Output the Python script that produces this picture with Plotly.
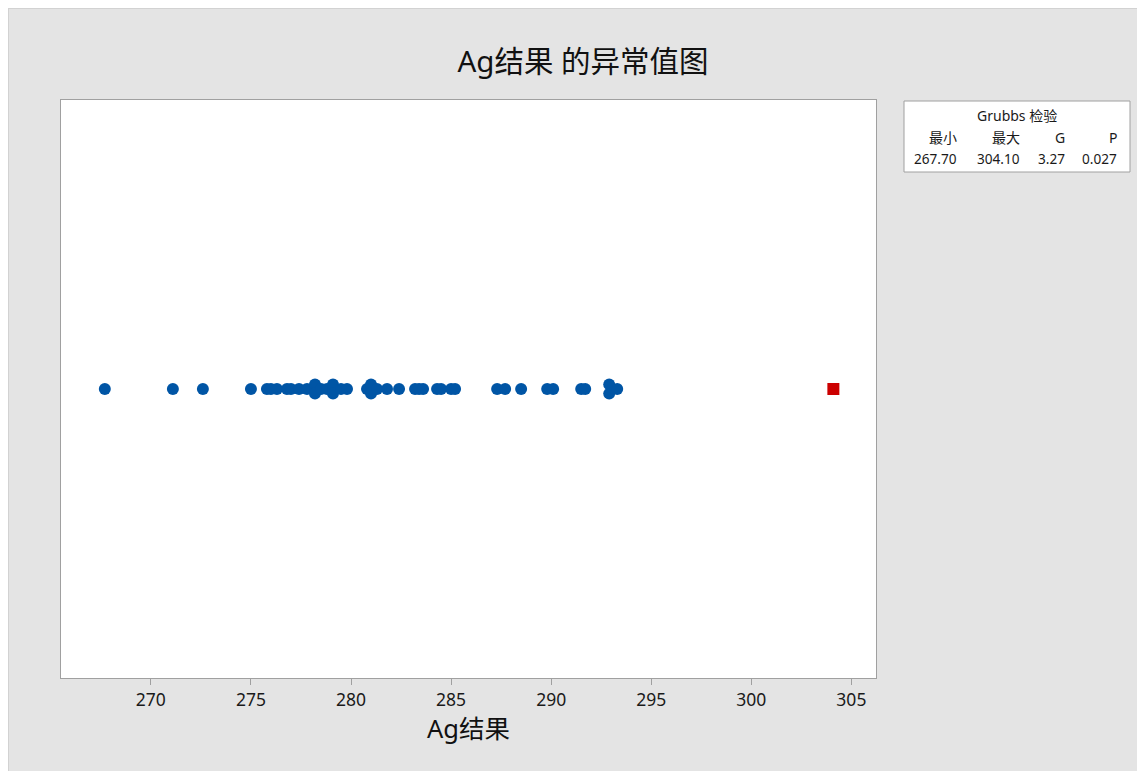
import plotly.graph_objects as go

# ---- data ----
ag_values = [267.7, 271.1, 272.6, 275.0, 275.8, 276.0, 276.3, 276.8, 277.0, 277.4,
             277.8, 278.2, 278.2, 278.2, 278.5, 278.8, 279.1, 279.1, 279.1, 279.5,
             279.8, 280.8, 281.0, 281.0, 281.0, 281.3, 281.8, 282.4, 283.2, 283.4,
             283.6, 284.3, 284.5, 285.0, 285.2, 287.3, 287.7, 288.5, 289.8, 290.1,
             291.5, 291.7, 292.9, 292.9, 293.3, 304.1]
outlier_value = 304.1
table_header = ["最小", "最大", "G", "P"]
table_values = ["267.70", "304.10", "3.27", "0.027"]
tick_vals = [270, 275, 280, 285, 290, 295, 300, 305]

# ---- tie offsets (stack identical values vertically) ----
step = 0.016
normal_x, normal_y = [], []
for v in ag_values:
    if v != outlier_value:
        normal_x.append(v)
counts = {v: normal_x.count(v) for v in set(normal_x)}
idx = {}
for v in normal_x:
    k = idx.get(v, 0)
    idx[v] = k + 1
    n = counts[v]
    if n == 1:
        off = 0
    elif n == 2:
        off = step if k == 0 else -step
    else:
        off = [0, step, -step][k % 3]
    normal_y.append(off)

OFF = 8  # page body margin
W, H = 1145, 771
L, R, T, B = 53, 277, 92, 101
pw = W - L - R
ph = H - T - B

fnt = "Segoe UI, Noto Sans, Noto Sans CJK SC, sans-serif"

fig = go.Figure()
fig.add_trace(go.Scatter(x=normal_x, y=normal_y, mode="markers",
                         marker=dict(color="#0055A5", size=12, line=dict(width=0)),
                         showlegend=False, hoverinfo="x"))
fig.add_trace(go.Scatter(x=[outlier_value], y=[0], mode="markers",
                         marker=dict(color="#CC0000", symbol="square", size=12, line=dict(width=0)),
                         showlegend=False, hoverinfo="x"))

def px2x(p):
    return (p - OFF - L) / pw

def px2y(p):
    return 1 - (p - OFF - T) / ph

shapes = [
    dict(type="line", xref="paper", yref="paper", x0=px2x(8.5), x1=px2x(8.5), y0=px2y(H + 8), y1=px2y(8),
         line=dict(color="#d2d2d2", width=1)),
    dict(type="line", xref="paper", yref="paper", x0=px2x(8), x1=px2x(W + 8), y0=px2y(8.5), y1=px2y(8.5),
         line=dict(color="#d2d2d2", width=1)),
    # table box
    dict(type="rect", xref="paper", yref="paper", x0=px2x(904), x1=px2x(1130), y0=px2y(172), y1=px2y(101),
         fillcolor="white", line=dict(color="#a0a0a0", width=1)),
]

annotations = [
    dict(text="Grubbs 检验", xref="paper", yref="paper", x=px2x(1017), y=px2y(116),
         xanchor="center", yanchor="middle", showarrow=False, font=dict(size=14, family=fnt, color="#1a1a1a")),
]
col_right = [959, 1022, 1067, 1119]
for h, v, xr in zip(table_header, table_values, col_right):
    annotations.append(dict(text=h, xref="paper", yref="paper", x=px2x(xr), y=px2y(137),
                            xanchor="right", yanchor="middle", showarrow=False,
                            font=dict(size=14, family=fnt, color="#1a1a1a")))
    annotations.append(dict(text=v, xref="paper", yref="paper", x=px2x(xr), y=px2y(158),
                            xanchor="right", yanchor="middle", showarrow=False,
                            font=dict(size=13.6, family=fnt, color="#1a1a1a")))

fig.update_layout(
    width=W, height=H,
    margin=dict(l=L, r=R, t=T, b=B),
    paper_bgcolor="#e4e4e4",
    plot_bgcolor="white",
    title=dict(text="Ag结果 的异常值图", x=(583 - OFF) / W, xanchor="center", y=1 - (62 - OFF) / H,
               yanchor="middle", font=dict(size=29.5, family=fnt, color="#111111")),
    xaxis=dict(range=[265.51, 306.23], tickvals=tick_vals, ticks="outside", ticklen=6,
               tickcolor="#a0a0a0", showgrid=False, zeroline=False, showline=True,
               linecolor="#a0a0a0", linewidth=1, mirror=True,
               tickfont=dict(size=17.5, family=fnt, color="#1a1a1a"),
               title=dict(text="Ag结果", font=dict(size=25.5, family=fnt, color="#111111"), standoff=10)),
    yaxis=dict(range=[-1, 1], showticklabels=False, ticks="", showgrid=False, zeroline=False,
               showline=True, linecolor="#a0a0a0", linewidth=1, mirror=True),
    shapes=shapes,
    annotations=annotations,
)

fig.write_html("out.html")
